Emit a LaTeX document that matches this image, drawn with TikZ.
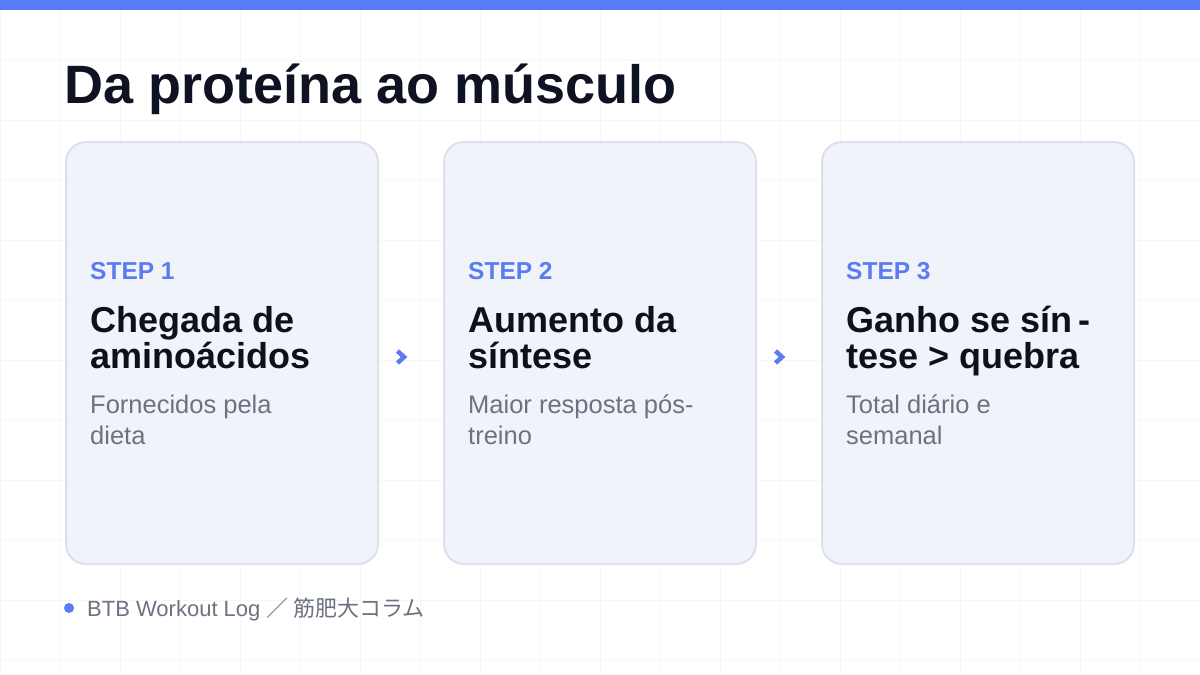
\documentclass[tikz,border=0pt]{standalone}
\usepackage{fontspec}
\setmainfont{Liberation Sans}
\newfontfamily\cjk{Noto Sans CJK JP}
\usetikzlibrary{calc}
\definecolor{topbar}{HTML}{5B7CFA}
\definecolor{stepblue}{HTML}{5B7CF0}
\definecolor{titlec}{HTML}{0F1222}
\definecolor{headc}{HTML}{0F111A}
\definecolor{subc}{HTML}{6B7280}
\definecolor{cardfill}{HTML}{F1F3FB}
\definecolor{cardline}{HTML}{DDE1EE}
\definecolor{gridc}{HTML}{F5F6F8}
\begin{document}
\begin{tikzpicture}[x=1pt,y=-1pt,
  card/.style={draw=cardline, line width=2pt, fill=cardfill, rounded corners=20pt,
    minimum width=312pt, minimum height=422pt, inner sep=0pt},
  steplabel/.style={anchor=base west, inner sep=0pt, text=stepblue,
    font=\fontsize{24.5}{24.5}\selectfont\bfseries},
  headline/.style={anchor=base west, inner sep=0pt, text=headc, align=left,
    font=\fontsize{36}{36}\selectfont\bfseries},
  subline/.style={anchor=base west, inner sep=0pt, text=subc, align=left,
    font=\fontsize{25.5}{31}\selectfont},
  chevron/.style={draw=stepblue, line width=4.5pt, miter limit=10}
]
\useasboundingbox (0,0) rectangle (1200,675);
\fill[white] (0,0) rectangle (1200,675);
\foreach \gx in {0,60,...,1200} \draw[gridc, line width=1pt] (\gx,0) -- (\gx,675);
\foreach \gy in {0,60,...,660} \draw[gridc, line width=1pt] (0,\gy) -- (1200,\gy);
\fill[topbar] (0,0) rectangle (1200,10);

\node[anchor=base west, inner sep=0pt, text=titlec,
  font=\fontsize{54}{54}\selectfont\bfseries] (title) at (64,103) {Da proteína ao músculo};

\node[card] (c1) at (222,353) {};
\node[card] (c2) at (600,353) {};
\node[card] (c3) at (978,353) {};

\node[steplabel] (s1) at (90,279) {STEP 1};
\node[headline] (h1a) at (90,332) {Chegada de};
\node[headline] (h1b) at (90,368) {aminoácidos};
\node[subline] (d1a) at (90,413) {Fornecidos pela};
\node[subline] (d1b) at (90,444) {dieta};

\node[steplabel] (s2) at (468,279) {STEP 2};
\node[headline] (h2a) at (468,332) {Aumento da};
\node[headline] (h2b) at (468,368) {síntese};
\node[subline] (d2a) at (468,413) {Maior resposta pós-};
\node[subline] (d2b) at (468,444) {treino};

\node[steplabel] (s3) at (846,279) {STEP 3};
\node[headline] (h3a) at (846,332) {Ganho se sín\,-};
\node[headline] (h3b) at (846,368) {tese > quebra};
\node[subline] (d3a) at (846,413) {Total diário e};
\node[subline] (d3b) at (846,444) {semanal};

\coordinate (a1) at ($(c1.east)+(25,4)$);
\coordinate (a2) at ($(c2.east)+(25,4)$);
\draw[chevron] ($(a1)+(-6.5,-6)$) -- (a1) -- ($(a1)+(-6.5,6)$);
\draw[chevron] ($(a2)+(-6.5,-6)$) -- (a2) -- ($(a2)+(-6.5,6)$);

\fill[stepblue] (69,608) circle (5pt);
\node[anchor=base west, inner sep=0pt, text=subc, font=\fontsize{22}{22}\selectfont]
  (foot) at (87,616) {BTB Workout Log {\cjk ／ 筋肥大コラム}};
\end{tikzpicture}
\end{document}
